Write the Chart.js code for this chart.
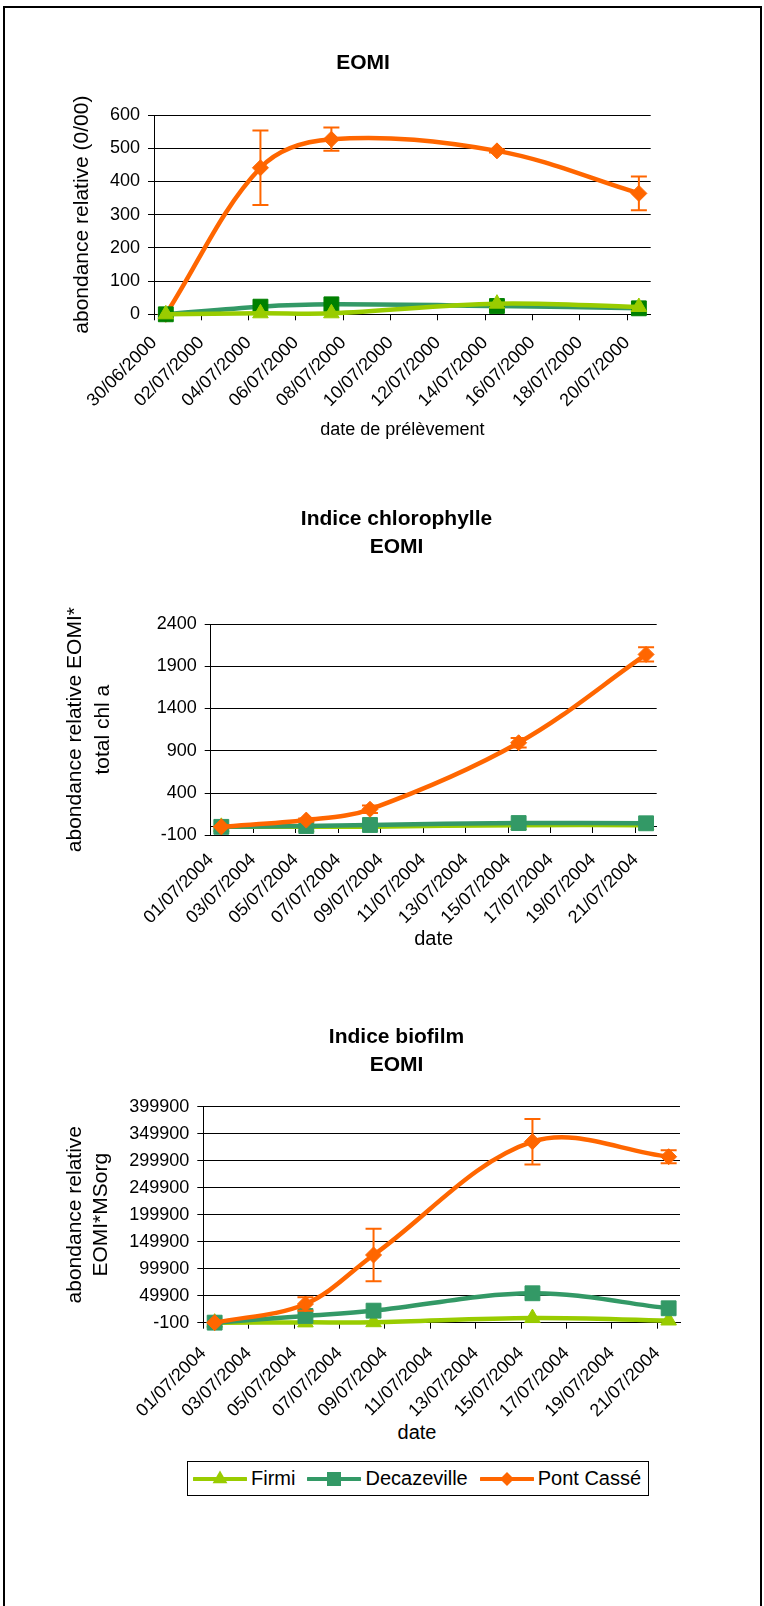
<!DOCTYPE html>
<html><head><meta charset="utf-8">
<script src="https://cdn.jsdelivr.net/npm/chart.js@4.4.1/dist/chart.umd.min.js"></script>
<style>
html,body{margin:0;padding:0;background:#fff;width:764px;height:1606px;overflow:hidden;font-family:"Liberation Sans",Arial,sans-serif;}
#frame{position:absolute;left:3px;top:6px;width:759px;height:1700px;border:2px solid #000;box-sizing:border-box;}
canvas{position:absolute;}
#c1{left:0;top:10px;}
#c2{left:30px;top:460px;}
#c3{left:30px;top:980px;}
#xt3{position:absolute;left:417px;top:1420px;transform:translateX(-50%);font-size:20px;line-height:24px;color:#000;white-space:nowrap;}
#legend{position:absolute;left:187px;top:1461px;width:462px;height:35px;border:1px solid #000;box-sizing:border-box;display:flex;align-items:center;padding-left:5px;font-size:20px;white-space:nowrap;color:#000;}
#legend .it{display:flex;align-items:center;margin-right:12px;}
#legend svg{margin-right:4px;}
</style></head>
<body>
<div id="frame"></div>
<canvas id="c1" width="726" height="440"></canvas>
<canvas id="c2" width="733" height="500"></canvas>
<canvas id="c3" width="733" height="440"></canvas>
<div id="xt3"></div>
<div id="legend"></div>
<script>
// ---------- data ----------
const seriesNames = ['Firmi', 'Decazeville', 'Pont Cassé'];

// Chart 1 : EOMI
const title1 = ['EOMI'];
const yTitle1 = 'abondance relative (0/00)';
const xTitle1 = 'date de prélèvement';
const dates1 = ['30/06/2000', '04/07/2000', '07/07/2000', '14/07/2000', '20/07/2000'];
const firmi1 = [0, 3, 3, 32, 22];
const decaz1 = [0, 23, 30, 25, 18];
const pont1 = [0, 441, 527, 492, 364];
const pontErr1 = [0, 112, 35, 5, 51];
const xTicks1 = ['30/06/2000', '02/07/2000', '04/07/2000', '06/07/2000', '08/07/2000', '10/07/2000', '12/07/2000', '14/07/2000', '16/07/2000', '18/07/2000', '20/07/2000'];
const xEnd1 = '21/07/2000';
const yTicks1 = [0, 100, 200, 300, 400, 500, 600];

// Chart 2 : Indice chlorophylle EOMI
const title2 = ['Indice chlorophylle', 'EOMI'];
const yTitle2 = ['abondance relative EOMI*', 'total chl a'];
const xTitle2 = 'date';
const dates2 = ['01/07/2004', '05/07/2004', '08/07/2004', '15/07/2004', '21/07/2004'];
const firmi2 = [0, 0, 2, 20, 20];
const decaz2 = [0, 10, 22, 45, 42];
const pont2 = [0, 80, 208, 995, 2040];
const pontErr2 = [0, 20, 45, 55, 85];
const xTicks2 = ['01/07/2004', '03/07/2004', '05/07/2004', '07/07/2004', '09/07/2004', '11/07/2004', '13/07/2004', '15/07/2004', '17/07/2004', '19/07/2004', '21/07/2004'];
const xEnd2 = '22/07/2004';
const yTicks2 = [-100, 400, 900, 1400, 1900, 2400];

// Chart 3 : Indice biofilm EOMI
const title3 = ['Indice biofilm', 'EOMI'];
const yTitle3 = ['abondance relative', 'EOMI*MSorg'];
const xTitle3 = 'date';
const dates3 = ['01/07/2004', '05/07/2004', '08/07/2004', '15/07/2004', '21/07/2004'];
const firmi3 = [0, 500, 800, 8500, 4000];
const decaz3 = [0, 12400, 22200, 54400, 26600];
const pont3 = [0, 34500, 125300, 335100, 307300];
const pontErr3 = [0, 12500, 48500, 42000, 12000];
const xTicks3 = ['01/07/2004', '03/07/2004', '05/07/2004', '07/07/2004', '09/07/2004', '11/07/2004', '13/07/2004', '15/07/2004', '17/07/2004', '19/07/2004', '21/07/2004'];
const xEnd3 = '22/07/2004';
const yTicks3 = [-100, 49900, 99900, 149900, 199900, 249900, 299900, 349900, 399900];

// ---------- styling ----------
const FONT = '"Liberation Sans", Arial, sans-serif';
const C_FIRMI = '#99CC00', C_DECAZ = '#339966', C_PONT = '#FF6600', C_DECAZ_DARK = '#008000';
Chart.defaults.font.family = FONT;
Chart.defaults.color = '#000';

function dayNum(s) { const [d, m, y] = s.split('/').map(Number); return Date.UTC(y, m - 1, d) / 86400000; }

const errorBarPlugin = {
  id: 'errorBars',
  afterDatasetsDraw(chart) {
    const ctx = chart.ctx, ys = chart.scales.y;
    chart.data.datasets.forEach((ds, i) => {
      if (!ds.errorBars) return;
      const meta = chart.getDatasetMeta(i);
      ctx.save();
      ctx.strokeStyle = ds.borderColor; ctx.lineWidth = 2;
      meta.data.forEach((el, j) => {
        const e = ds.errorBars[j]; if (!e) return;
        const v = ds.data[j].y;
        const yt = ys.getPixelForValue(v + e), yb = ys.getPixelForValue(v - e);
        ctx.beginPath();
        ctx.moveTo(el.x, yt); ctx.lineTo(el.x, yb);
        ctx.moveTo(el.x - 8, yt); ctx.lineTo(el.x + 8, yt);
        ctx.moveTo(el.x - 8, yb); ctx.lineTo(el.x + 8, yb);
        ctx.stroke();
      });
      ctx.restore();
    });
  }
};

function buildChart(canvasId, o) {
  const origin = o.xTicks[0];
  const xMax = dayNum(o.xEnd) - dayNum(origin);
  const tickVals = o.xTicks.map(t => dayNum(t) - dayNum(origin));
  const pts = vals => o.dates.map((d, i) => ({x: dayNum(d) - dayNum(origin) + 0.5, y: vals[i]}));
  const mk = (label, vals, color, marker, style, radius, order, extra) => Object.assign({
    label, data: pts(vals), borderColor: color, backgroundColor: marker,
    pointBackgroundColor: marker, pointBorderColor: marker, pointBorderWidth: 1,
    pointStyle: style, pointRadius: radius, borderWidth: 4.5, tension: 0.35, order,
    clip: false, borderJoinStyle: 'round', borderCapStyle: 'round', fill: false
  }, extra || {});
  const datasets = [
    mk(seriesNames[0], o.firmi, C_FIRMI, C_FIRMI, 'triangle', 9, o.order[0]),
    mk(seriesNames[1], o.decaz, C_DECAZ, o.decazMarker, 'rect', 10.5, o.order[1]),
    mk(seriesNames[2], o.pont, C_PONT, C_PONT, 'rectRot', 8, o.order[2], {errorBars: o.pontErr})
  ];
  const setXTicks = s => { s.ticks = tickVals.map(v => ({value: v})); };
  const scales = {
    x: {
      type: 'linear', min: 0, max: xMax, position: 'bottom',
      afterBuildTicks: setXTicks,
      afterFit: s => { s.height = o.xHeight; },
      ticks: {autoSkip: false, minRotation: 45, maxRotation: 45, padding: o.xTickPad, color: '#000',
        font: {family: FONT, size: 18}, callback: (v, i) => o.xTicks[i]},
      grid: {display: !o.xAtZero, drawOnChartArea: false, drawTicks: true, tickLength: 6, color: '#000'},
      border: {display: true, color: '#000', width: 1},
      title: o.xTitle ? {display: true, text: o.xTitle, color: '#000',
        font: {family: FONT, size: o.xTitleSize, lineHeight: 1.2}, padding: {top: 0, bottom: o.xTitlePadB}} : {display: false}
    },
    y: {
      type: 'linear', min: o.yTicks[0], max: o.yTicks[o.yTicks.length - 1], position: 'left',
      afterBuildTicks: s => { s.ticks = o.yTicks.map(v => ({value: v})); },
      afterFit: s => { s.width = o.yWidth; },
      ticks: {padding: 8, color: '#000', font: {family: FONT, size: 18}, callback: v => String(v)},
      grid: {color: '#000', lineWidth: 1, tickLength: 6, drawTicks: true},
      border: {display: true, color: '#000', width: 1},
      title: {display: true, text: o.yTitle, color: '#000',
        font: {family: FONT, size: 21, lineHeight: o.yTitleLH}, padding: {top: o.yTitlePadT, bottom: 0}}
    },
    pad: {
      type: 'linear', position: 'right', display: true,
      grid: {display: false, drawTicks: false}, border: {display: false}, ticks: {display: false},
      afterFit: s => { s.width = o.padRight; }
    }
  };
  if (o.xAtZero) {
    scales.x0 = {
      type: 'linear', min: 0, max: xMax, position: {y: 0},
      afterBuildTicks: setXTicks,
      ticks: {display: false},
      grid: {display: true, drawOnChartArea: false, drawTicks: true, tickLength: 6, color: '#000'},
      border: {display: true, color: '#000', width: 1}
    };
  }
  return new Chart(document.getElementById(canvasId), {
    type: 'line',
    data: {datasets},
    options: {
      responsive: false, animation: false, devicePixelRatio: 1,
      layout: {padding: 0},
      plugins: {
        legend: {display: false}, tooltip: {enabled: false},
        title: {display: true, text: o.title, color: '#000',
          font: {family: FONT, size: 21, weight: 'bold', lineHeight: o.titleLH},
          padding: {top: o.titlePadT, bottom: o.titlePadB}}
      },
      scales
    },
    plugins: [errorBarPlugin]
  });
}

buildChart('c1', {
  title: title1, titleLH: 1.2, titlePadT: 40.4, titlePadB: 39.4,
  dates: dates1, firmi: firmi1, decaz: decaz1, pont: pont1, pontErr: pontErr1,
  decazMarker: C_DECAZ_DARK, order: [1, 2, 3],
  xTicks: xTicks1, xEnd: xEnd1, yTicks: yTicks1, xTickPad: 12,
  yTitle: yTitle1, yTitleLH: 1.2, yTitlePadT: 69.4, yWidth: 154,
  xTitle: xTitle1, xTitleSize: 18, xTitlePadB: 9, xHeight: 135.7,
  padRight: 75.3, xAtZero: false
});
buildChart('c2', {
  title: title2, titleLH: 1.305, titlePadT: 45.6, titlePadB: 63.6,
  dates: dates2, firmi: firmi2, decaz: decaz2, pont: pont2, pontErr: pontErr2,
  decazMarker: C_DECAZ, order: [3, 2, 1],
  xTicks: xTicks2, xEnd: xEnd2, yTicks: yTicks2, xTickPad: 8,
  yTitle: yTitle2, yTitleLH: 1.35, yTitlePadT: 30.85, yWidth: 180.7,
  xTitle: xTitle2, xTitleSize: 20, xTitlePadB: 9, xHeight: 124.7,
  padRight: 106.3, xAtZero: true
});
buildChart('c3', {
  title: title3, titleLH: 1.305, titlePadT: 44, titlePadB: 27.9,
  dates: dates3, firmi: firmi3, decaz: decaz3, pont: pont3, pontErr: pontErr3,
  decazMarker: C_DECAZ, order: [3, 2, 1],
  xTicks: xTicks3, xEnd: xEnd3, yTicks: yTicks3, xTickPad: 14,
  yTitle: yTitle3, yTitleLH: 1.27, yTitlePadT: 31.65, yWidth: 173.3,
  xTitle: null, xHeight: 97.3,
  padRight: 83, xAtZero: false
});

// x title of chart 3 and shared legend (HTML text)
document.getElementById('xt3').textContent = xTitle3;
const legendIcons = [
  {color: C_FIRMI, shape: '<polygon points="27,0.5 34.4,13.3 19.6,13.3" fill="' + C_FIRMI + '"/>'},
  {color: C_DECAZ, shape: '<rect x="20" y="2" width="14" height="14" fill="' + C_DECAZ + '"/>'},
  {color: C_PONT, shape: '<polygon points="27,2 34,9 27,16 20,9" fill="' + C_PONT + '"/>'}
];
const lg = document.getElementById('legend');
seriesNames.forEach((name, i) => {
  const it = document.createElement('div'); it.className = 'it';
  it.innerHTML = '<svg width="54" height="18" viewBox="0 0 54 18"><line x1="1" y1="9" x2="53" y2="9" stroke="' +
    legendIcons[i].color + '" stroke-width="4" stroke-linecap="round"/>' + legendIcons[i].shape + '</svg>';
  const sp = document.createElement('span'); sp.textContent = name; it.appendChild(sp);
  lg.appendChild(it);
});
</script>
</body></html>
